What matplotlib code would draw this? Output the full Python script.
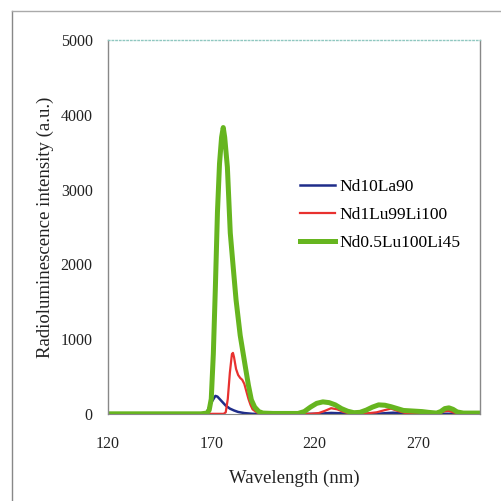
import matplotlib
matplotlib.use("Agg")
import matplotlib.pyplot as plt
from matplotlib.lines import Line2D

plt.rcParams['font.family'] = ['Liberation Serif', 'DejaVu Serif']

# Nd10La90
wl_blue = [120, 166, 168, 170, 172, 173, 175, 177, 179, 181, 183, 186, 190, 220, 224, 228, 232, 236, 250, 254, 258, 262, 266, 300]
int_blue = [0, 0, 30, 150, 240, 230, 170, 110, 70, 45, 25, 10, 0, 0, 5, 12, 8, 2, 0, 8, 15, 8, 2, 0]

# Nd1Lu99Li100
wl_red = [120, 176, 177, 178, 179, 180, 180.5, 181, 182, 183, 184, 185, 186, 187, 188, 189, 190, 192, 195,
          218, 222, 225, 228, 231, 234, 237, 245, 250, 254, 257, 260, 264, 270, 280, 283, 285, 287, 290, 300]
int_red = [0, 0, 20, 200, 550, 800, 815, 760, 600, 520, 480, 455, 400, 300, 200, 120, 60, 20, 0,
           0, 10, 40, 75, 60, 25, 5, 5, 20, 50, 70, 40, 10, 5, 5, 35, 40, 20, 0, 0]

# Nd0.5Lu100Li45
wl_green = [120, 165, 168, 169, 170, 171, 172, 173, 174, 175, 175.8, 176.5, 177.8, 179.2, 180.5, 182, 184, 186.5,
            188, 189.4, 191, 193, 195, 200, 212, 215, 218, 221, 224, 227, 230, 233, 236, 239, 242, 245, 248,
            251, 254, 257, 260, 263, 266, 269, 272, 275, 279, 281, 283, 285, 287, 289, 292, 300]
int_green = [0, 0, 10, 50, 200, 800, 1700, 2700, 3350, 3700, 3830, 3700, 3300, 2420, 2000, 1524, 1050, 628,
             380, 187, 90, 30, 10, 5, 5, 30, 90, 140, 160, 150, 120, 70, 35, 15, 20, 50, 90,
             120, 115, 95, 70, 45, 40, 35, 30, 20, 10, 30, 70, 80, 60, 25, 10, 10]

labels = ['Nd10La90', 'Nd1Lu99Li100', 'Nd0.5Lu100Li45']
xticks = [120, 170, 220, 270]
yticks = [0, 1000, 2000, 3000, 4000, 5000]

fig = plt.figure(figsize=(5.02, 5.01), dpi=100)
ax = fig.add_axes([0.215, 0.174, 0.741, 0.746])

ax.plot(wl_blue, int_blue, color='#1f2d8a', lw=1.8, label=labels[0])
ax.plot(wl_red, int_red, color='#e8312f', lw=1.6, label=labels[1])
ax.plot(wl_green, int_green, color='#66b51f', lw=3.6, label=labels[2])

ax.set_xlim(120, 300)
ax.set_ylim(0, 5000)
ax.set_xticks(xticks)
ax.set_yticks(yticks)
ax.tick_params(length=0, labelsize=11.5, pad=11, colors='#222222')
ax.tick_params(axis='x', pad=16)

for s in ['left', 'right']:
    ax.spines[s].set_color('#888888')
    ax.spines[s].set_linewidth(1.0)
ax.spines['bottom'].set_color('#888888')
ax.spines['top'].set_color('#8fc7c0')
ax.spines['top'].set_linestyle(':')
ax.spines['top'].set_linewidth(1.0)

ax.set_xlabel('Wavelength (nm)', fontsize=13.5, color='#222222', labelpad=13)
ax.set_ylabel('Radioluminescence intensity (a.u.)', fontsize=13.5, color='#222222', labelpad=5)

leg = ax.legend(loc='center left', bbox_to_anchor=(0.516, 0.532), frameon=False, fontsize=12.5,
                handlelength=2.0, handletextpad=0.3, labelspacing=0.7, borderpad=0, borderaxespad=0)

# outer frame
fig.add_artist(Line2D([12/502, 12/502], [0, 1 - 11/501], color='#888888', lw=1.0, transform=fig.transFigure))
fig.add_artist(Line2D([12/502, 1], [1 - 11/501, 1 - 11/501], color='#aaaaaa', lw=1.0, transform=fig.transFigure))

fig.savefig('out.png', dpi=100)
